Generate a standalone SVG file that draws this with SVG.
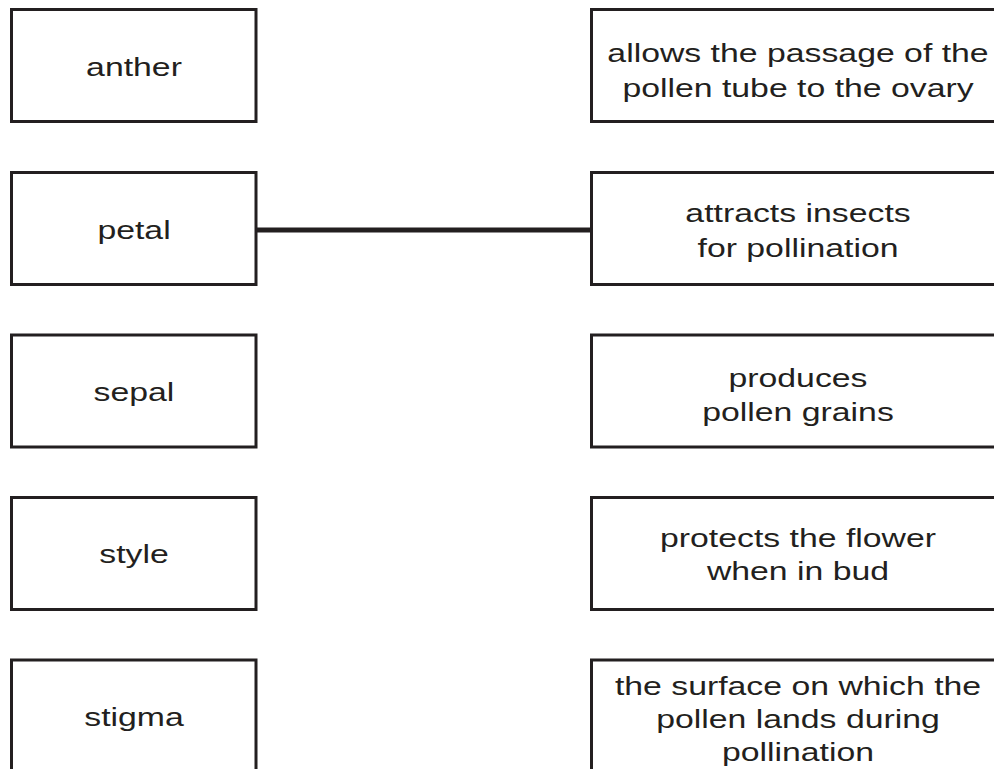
<svg xmlns="http://www.w3.org/2000/svg" width="994" height="769" viewBox="0 0 994 769">
<style>
.box{fill:#fff;stroke:#231f20;stroke-width:3}
.t{font-family:"Liberation Sans",Arial,sans-serif;font-size:26px;fill:#231f20;text-anchor:middle}
.conn{stroke:#231f20;stroke-width:5;fill:none}
</style>
<rect width="994" height="769" fill="#fff"/>
<g id="left-anther"><rect class="box" x="11.5" y="9.5" width="244.5" height="112"/><text class="t" transform="translate(134,76) scale(1.3,1)">anther</text></g>
<g id="left-petal"><rect class="box" x="11.5" y="172.5" width="244.5" height="112"/><text class="t" transform="translate(134,238.5) scale(1.3,1)">petal</text></g>
<g id="left-sepal"><rect class="box" x="11.5" y="335" width="244.5" height="112"/><text class="t" transform="translate(134,400.5) scale(1.3,1)">sepal</text></g>
<g id="left-style"><rect class="box" x="11.5" y="497.5" width="244.5" height="112"/><text class="t" transform="translate(134,563) scale(1.3,1)">style</text></g>
<g id="left-stigma"><rect class="box" x="11.5" y="660" width="244.5" height="130"/><text class="t" transform="translate(134,725.5) scale(1.3,1)">stigma</text></g>
<g id="right-1"><rect class="box" x="591.5" y="9.5" width="430" height="112"/><text class="t" transform="translate(798,62.3) scale(1.3,1)">allows the passage of the</text><text class="t" transform="translate(798,96.7) scale(1.3,1)">pollen tube to the ovary</text></g>
<g id="right-2"><rect class="box" x="591.5" y="172.5" width="430" height="112"/><text class="t" transform="translate(798,222.3) scale(1.3,1)">attracts insects</text><text class="t" transform="translate(798,256.7) scale(1.3,1)">for pollination</text></g>
<g id="right-3"><rect class="box" x="591.5" y="335" width="430" height="112"/><text class="t" transform="translate(798,386.7) scale(1.3,1)">produces</text><text class="t" transform="translate(798,421) scale(1.3,1)">pollen grains</text></g>
<g id="right-4"><rect class="box" x="591.5" y="497.5" width="430" height="112"/><text class="t" transform="translate(798,546.7) scale(1.3,1)">protects the flower</text><text class="t" transform="translate(798,580) scale(1.3,1)">when in bud</text></g>
<g id="right-5"><rect class="box" x="591.5" y="660" width="430" height="130"/><text class="t" transform="translate(798,695) scale(1.3,1)">the surface on which the</text><text class="t" transform="translate(798,728.3) scale(1.3,1)">pollen lands during</text><text class="t" transform="translate(798,760.7) scale(1.3,1)">pollination</text></g>
<g id="connectors"><line class="conn" x1="256" y1="230" x2="591" y2="230"/></g>
</svg>
